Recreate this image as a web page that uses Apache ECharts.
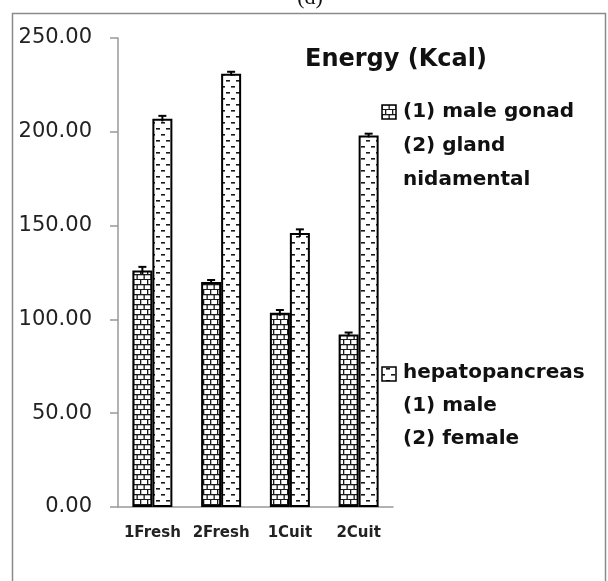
<!DOCTYPE html>
<html>
<head>
	<meta charset="utf-8">
	<title>Energy (Kcal)</title>
	<script type="text/javascript" src="https://cdn.jsdelivr.net/npm/echarts@6/dist/echarts.min.js"></script>
</head>
<body style="margin:0">
<div id="main" style="width: 608px; height: 581px"></div>

<script type="text/javascript">
var categories = ['1Fresh', '2Fresh', '1Cuit', '2Cuit'];
var gonadValues = [126, 120, 103.5, 92];
var gonadErrors = [2, 1, 1.5, 1];
var hepatoValues = [207, 231, 146, 198];
var hepatoErrors = [1.5, 1, 2, 1];
var seriesNames = ['(1) male gonad\n(2) gland\nnidamental', 'hepatopancreas\n(1) male\n(2) female'];
var yMin = 0, yMax = 250, yStep = 50;

// brick and dash fills, drawn on small canvases
function brickPattern() {
    var c = document.createElement('canvas');
    c.width = 14; c.height = 10;
    var g = c.getContext('2d');
    g.fillStyle = '#fff';
    g.fillRect(0, 0, 14, 10);
    g.fillStyle = '#1a1a1a';
    g.fillRect(0, 4, 14, 1.3);
    g.fillRect(0, 9, 14, 1.3);
    g.fillRect(0, 0, 1.3, 4);
    g.fillRect(7, 0, 1.3, 4);
    g.fillRect(3.5, 5, 1.3, 4);
    g.fillRect(10.5, 5, 1.3, 4);
    return {image: c, repeat: 'repeat'};
}
function dashPattern() {
    var c = document.createElement('canvas');
    c.width = 10; c.height = 12;
    var g = c.getContext('2d');
    g.fillStyle = '#fff';
    g.fillRect(0, 0, 10, 12);
    g.fillStyle = '#1a1a1a';
    g.fillRect(1, 2, 4, 1.6);
    g.fillRect(6, 8, 4, 1.6);
    return {image: c, repeat: 'repeat'};
}
var brick = brickPattern();
var dash = dashPattern();

function errData(values, errors) {
    return values.map(function (v, i) { return [i, v, errors[i]]; });
}

function errorBar(offset) {
    return function (params, api) {
        var idx = api.value(0), v = api.value(1), e = api.value(2);
        var x = api.coord([idx, 0])[0] + offset;
        var top = api.coord([idx, v + e])[1];
        var bot = api.coord([idx, v - e])[1];
        var style = {stroke: '#000', lineWidth: 2};
        return {
            type: 'group',
            children: [
                {type: 'line', shape: {x1: x, y1: top, x2: x, y2: bot}, style: style},
                {type: 'line', shape: {x1: x - 4, y1: top, x2: x + 4, y2: top}, style: style}
            ]
        };
    };
}

var myChart = echarts.init(document.getElementById('main'));
var font = 'DejaVu Sans';

option = {
    backgroundColor: '#fff',
    animation: false,
    grid: {left: 118, right: 215, top: 38, bottom: 74},
    xAxis: {
        type: 'category',
        data: categories,
        axisLine: {lineStyle: {color: '#999', width: 1.5}},
        axisTick: {length: 6, lineStyle: {color: '#999', width: 1.5}},
        axisLabel: {interval: 0, color: '#222', fontFamily: font, fontWeight: 'bold', fontSize: 15, margin: 19}
    },
    yAxis: {
        type: 'value',
        min: yMin, max: yMax, interval: yStep,
        axisLine: {show: true, lineStyle: {color: '#999', width: 1.5}},
        axisTick: {show: true, length: 8, lineStyle: {color: '#999', width: 1.5}},
        splitLine: {show: false},
        axisLabel: {
            color: '#222', fontFamily: font, fontSize: 21, margin: 26,
            formatter: function (v) { return v.toFixed(2); }
        }
    },
    series: [
        {
            name: seriesNames[0],
            type: 'bar',
            barWidth: 20,
            barGap: '0%',
            data: gonadValues,
            itemStyle: {color: brick, borderColor: '#000', borderWidth: 2}
        },
        {
            name: seriesNames[1],
            type: 'bar',
            barWidth: 20,
            barGap: '0%',
            data: hepatoValues,
            itemStyle: {color: dash, borderColor: '#000', borderWidth: 2}
        },
        {
            type: 'custom',
            renderItem: errorBar(-10),
            encode: {x: 0, y: 1},
            data: errData(gonadValues, gonadErrors),
            z: 5
        },
        {
            type: 'custom',
            renderItem: errorBar(10),
            encode: {x: 0, y: 1},
            data: errData(hepatoValues, hepatoErrors),
            z: 5
        }
    ],
    graphic: [
        {type: 'rect', shape: {x: 12.5, y: 13.5, width: 593, height: 620},
         style: {fill: null, stroke: '#8a8a8a', lineWidth: 1.5}, silent: true},
        {type: 'text', x: 310, y: 9,
         style: {text: '(d)', font: '22px "Liberation Serif"', fill: '#111', textAlign: 'center', textVerticalAlign: 'bottom'}},
        {type: 'text', x: 396, y: 60,
         style: {text: 'Energy (Kcal)', font: 'bold 24px "DejaVu Sans"', fill: '#111', textAlign: 'center', textVerticalAlign: 'middle'}},
        // legend 1
        {type: 'rect', shape: {x: 382, y: 105, width: 14, height: 14},
         style: {fill: brick, stroke: '#000', lineWidth: 1.5}},
        {type: 'text', x: 403, y: 95,
         style: {text: seriesNames[0], font: 'bold 20px "DejaVu Sans"', fill: '#111', lineHeight: 34, textVerticalAlign: 'top'}},
        // legend 2
        {type: 'rect', shape: {x: 382, y: 367, width: 14, height: 14},
         style: {fill: dash, stroke: '#000', lineWidth: 1.5}},
        {type: 'text', x: 403, y: 356,
         style: {text: seriesNames[1], font: 'bold 20px "DejaVu Sans"', fill: '#111', lineHeight: 33, textVerticalAlign: 'top'}}
    ]
};

myChart.setOption(option);
</script>
</body>
</html>
